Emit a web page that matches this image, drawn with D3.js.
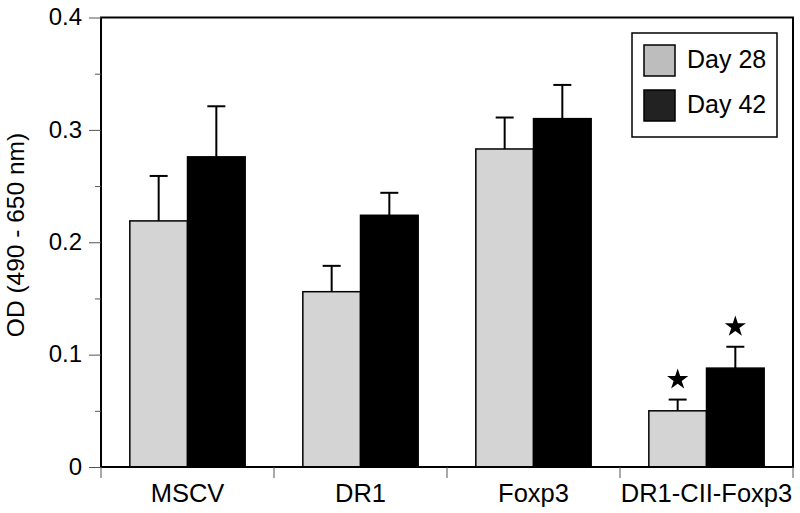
<!DOCTYPE html>
<html><head><meta charset="utf-8">
<script src="https://cdn.jsdelivr.net/npm/d3@7"></script>
<style>body{margin:0;background:#fff}svg{display:block}text{font-family:"Liberation Sans",Arial,Helvetica,sans-serif;fill:#000}</style>
</head><body><svg id="c" width="800" height="513"></svg>
<script>
const categories = ["MSCV", "DR1", "Foxp3", "DR1-CII-Foxp3"];
const seriesNames = ["Day 28", "Day 42"];
const day28 = [0.219, 0.156, 0.283, 0.050];
const day28Err = [0.040, 0.023, 0.028, 0.010];
const day42 = [0.276, 0.224, 0.310, 0.088];
const day42Err = [0.045, 0.020, 0.030, 0.019];
const day28Star = [false, false, false, true];
const day42Star = [false, false, false, true];
const yTicks = [0, 0.1, 0.2, 0.3, 0.4];
const yMinorTicks = [0.05, 0.15, 0.25, 0.35];

const svg = d3.select("#c");
const L = 101, R = 793, T = 17.5, B = 467;
const x = d3.scaleBand().domain(categories).range([L, R]).paddingInner(0).paddingOuter(0);
const x1 = d3.scaleBand().domain(seriesNames).range([0, x.bandwidth()]).paddingInner(0).paddingOuter(0.5);
const y = d3.scaleLinear().domain([0, 0.4]).range([B, T]);
const fills = ["#d4d4d4", "#000000"];
const legendFills = ["#bdbdbd", "#222222"];
const series = [
  {name: seriesNames[0], vals: day28, err: day28Err, star: day28Star},
  {name: seriesNames[1], vals: day42, err: day42Err, star: day42Star}
];

// error bars (behind bars)
series.forEach((s, si) => {
  const g = svg.append("g");
  categories.forEach((c, i) => {
    const cx = x(c) + x1(s.name) + x1.bandwidth() / 2;
    const top = y(s.vals[i] + s.err[i]);
    g.append("line").attr("x1", cx).attr("x2", cx).attr("y1", y(s.vals[i])).attr("y2", top)
      .attr("stroke", "#000").attr("stroke-width", 2);
    g.append("line").attr("x1", cx - 9).attr("x2", cx + 9).attr("y1", top).attr("y2", top)
      .attr("stroke", "#000").attr("stroke-width", 2);
    if (s.star[i]) {
      g.append("path").attr("d", d3.symbol(d3.symbolStar, 140)())
        .attr("transform", `translate(${cx},${top - 20})`).attr("fill", "#000");
    }
  });
});

// bars
series.forEach((s, si) => {
  svg.append("g").selectAll("rect").data(categories).join("rect")
    .attr("x", c => x(c) + x1(s.name))
    .attr("width", x1.bandwidth())
    .attr("y", (c, i) => y(s.vals[i]))
    .attr("height", (c, i) => B - y(s.vals[i]))
    .attr("fill", fills[si]).attr("stroke", "#000").attr("stroke-width", 1.5);
});

// frame
svg.append("rect").attr("x", L).attr("y", T).attr("width", R - L).attr("height", B - T)
  .attr("fill", "none").attr("stroke", "#000").attr("stroke-width", 2);

// y axis
const yAxis = d3.axisLeft(y).tickValues(yTicks).tickFormat(d => d === 0 ? "0" : d3.format(".1f")(d))
  .tickSize(12).tickPadding(7);
const ya = svg.append("g").attr("transform", `translate(${L},0)`).call(yAxis);
ya.attr("font-size", null).attr("font-family", null);
ya.select(".domain").remove();
ya.selectAll("line").attr("stroke", "#555").attr("stroke-width", 1);
ya.selectAll("text").style("font-size", "24px").attr("dy", "0.3em");
const yminor = d3.axisLeft(y).tickValues(yMinorTicks).tickFormat("").tickSize(6);
const ym = svg.append("g").attr("transform", `translate(${L},0)`).call(yminor);
ym.select(".domain").remove();
ym.selectAll("line").attr("stroke", "#555").attr("stroke-width", 1);

// x axis: labels + boundary ticks
const xa = svg.append("g").attr("transform", `translate(0,${B})`).call(d3.axisBottom(x).tickSize(0).tickPadding(0));
xa.attr("font-size", null).attr("font-family", null);
xa.select(".domain").remove();
xa.selectAll("text").style("font-size", "25.5px").attr("dy", null).attr("y", 35);
const bounds = categories.map(c => x(c)).concat([x.range()[1]]);
svg.append("g").selectAll("line").data(bounds).join("line")
  .attr("x1", d => d).attr("x2", d => d).attr("y1", B).attr("y2", B + 11)
  .attr("stroke", "#555").attr("stroke-width", 1);

// y label
svg.append("text").attr("transform", `translate(24,235) rotate(-90)`)
  .attr("text-anchor", "middle").style("font-size", "24.5px").text("OD (490 - 650 nm)");

// legend
const lg = svg.append("g");
lg.append("rect").attr("x", 632).attr("y", 33).attr("width", 145).attr("height", 104)
  .attr("fill", "#fff").attr("stroke", "#000").attr("stroke-width", 1.5);
series.forEach((s, si) => {
  const yy = 45 + si * 45;
  lg.append("rect").attr("x", 644).attr("y", yy).attr("width", 31).attr("height", 31)
    .attr("fill", legendFills[si]).attr("stroke", "#000").attr("stroke-width", 1.5);
  lg.append("text").attr("x", 687).attr("y", yy + 23).style("font-size", "25px").text(s.name);
});
</script></body></html>
